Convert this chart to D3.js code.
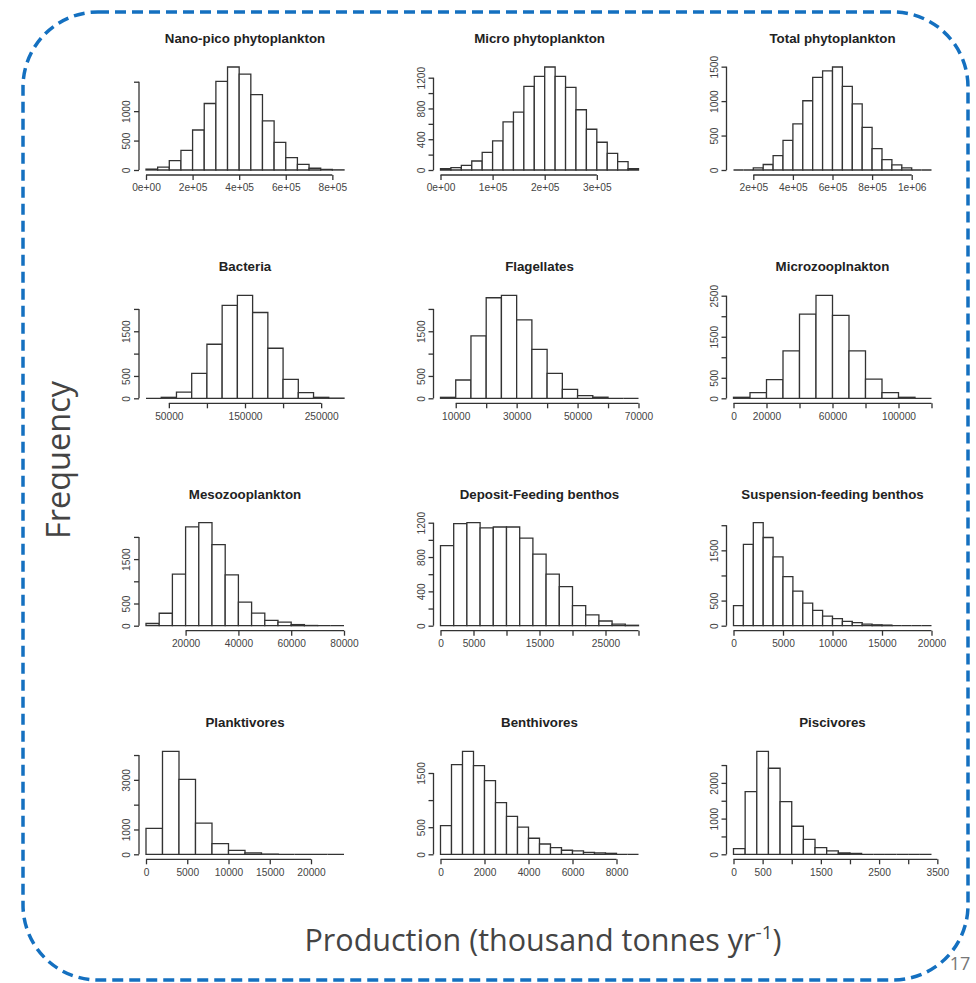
<!DOCTYPE html>
<html>
<head>
<meta charset="utf-8">
<script src="https://cdn.jsdelivr.net/npm/d3@7"></script>
<style>
  body { margin: 0; background: #fff; }
  svg { display: block; }
</style>
</head>
<body>
<svg id="chart"></svg>
<script>
// panel titles, left-to-right then top-to-bottom
const titles = [
  "Nano-pico phytoplankton", "Micro phytoplankton", "Total phytoplankton",
  "Bacteria", "Flagellates", "Microzooplnakton",
  "Mesozooplankton", "Deposit-Feeding benthos", "Suspension-feeding benthos",
  "Planktivores", "Benthivores", "Piscivores"
];

// histogram bins: first break and bin width
const binStart = [0, 0, 100000, 20000, 5000, 0, 5000, 0, 0, 0, 0, 0];
const binWidth = [50000, 20000, 50000, 20000, 5000, 10000, 5000, 2000, 1000, 2000, 500, 200];

// counts per bin
const nanoPico = [15, 50, 160, 335, 680, 1130, 1505, 1750, 1630, 1280, 835, 470, 210, 95, 30, 10, 3];
const microPhyto = [17, 30, 60, 117, 230, 378, 626, 752, 1087, 1217, 1339, 1217, 1074, 783, 530, 361, 217, 109, 17];
const totalPhyto = [0, 0, 30, 80, 210, 430, 670, 1005, 1345, 1440, 1495, 1215, 960, 620, 310, 150, 75, 30, 0, 0];
const bacteria = [0, 22, 140, 560, 1210, 2080, 2305, 1920, 1120, 425, 127, 22, 4];
const flagellates = [22, 410, 1395, 2250, 2305, 1755, 1097, 560, 200, 60, 25, 0, 0];
const microzoo = [25, 140, 455, 1155, 2050, 2510, 2020, 1155, 465, 140, 25, 0];
const mesozoo = [50, 280, 1160, 2225, 2320, 1825, 1145, 530, 285, 120, 80, 25, 5, 0, 0];
const depositBenthos = [932, 1190, 1200, 1140, 1150, 1150, 1020, 835, 600, 456, 234, 125, 55, 18, 5];
const suspensionBenthos = [400, 1620, 2050, 1755, 1370, 975, 690, 450, 305, 190, 140, 85, 60, 33, 18, 12, 0, 0, 0, 0];
const planktivores = [1045, 4150, 3020, 1260, 430, 160, 55, 10, 0, 0, 0, 0];
const benthivores = [530, 1655, 1900, 1635, 1360, 955, 700, 500, 296, 190, 123, 75, 62, 37, 25, 18, 0, 0];
const piscivores = [160, 1755, 2885, 2410, 1475, 785, 420, 187, 94, 37, 25, 0, 0, 0, 0, 0, 0];

const counts = [nanoPico, microPhyto, totalPhyto, bacteria, flagellates, microzoo,
  mesozoo, depositBenthos, suspensionBenthos, planktivores, benthivores, piscivores];

// x axis ticks and the labels R actually printed ("" = tick without label)
const xTicks = [
  [0, 2e5, 4e5, 6e5, 8e5], [0, 1e5, 2e5, 3e5], [2e5, 4e5, 6e5, 8e5, 1e6],
  [50000, 100000, 150000, 200000, 250000], [10000, 20000, 30000, 40000, 50000, 60000, 70000],
  [0, 20000, 40000, 60000, 80000, 100000, 120000],
  [20000, 40000, 60000, 80000], [0, 5000, 10000, 15000, 20000, 25000, 30000], [0, 5000, 10000, 15000, 20000],
  [0, 5000, 10000, 15000, 20000], [0, 2000, 4000, 6000, 8000], [0, 500, 1000, 1500, 2000, 2500, 3000, 3500]
];
const xLabels = [
  ["0e+00", "2e+05", "4e+05", "6e+05", "8e+05"], ["0e+00", "1e+05", "2e+05", "3e+05"],
  ["2e+05", "4e+05", "6e+05", "8e+05", "1e+06"],
  ["50000", "", "150000", "", "250000"], ["10000", "", "30000", "", "50000", "", "70000"],
  ["0", "20000", "", "60000", "", "100000", ""],
  ["20000", "40000", "60000", "80000"], ["0", "5000", "", "15000", "", "25000", ""],
  ["0", "5000", "10000", "15000", "20000"],
  ["0", "5000", "10000", "15000", "20000"], ["0", "2000", "4000", "6000", "8000"],
  ["0", "500", "", "1500", "", "2500", "", "3500"]
];

// y axis ticks and printed labels
const yTicks = [
  [0, 500, 1000, 1500], [0, 200, 400, 600, 800, 1000, 1200], [0, 500, 1000, 1500],
  [0, 500, 1000, 1500, 2000], [0, 500, 1000, 1500, 2000], [0, 500, 1000, 1500, 2000, 2500],
  [0, 500, 1000, 1500, 2000], [0, 200, 400, 600, 800, 1000, 1200], [0, 500, 1000, 1500, 2000],
  [0, 1000, 2000, 3000, 4000], [0, 500, 1000, 1500], [0, 500, 1000, 1500, 2000, 2500]
];
const yLabels = [
  ["0", "500", "1000", ""], ["0", "", "400", "", "800", "", "1200"], ["0", "500", "1000", "1500"],
  ["0", "500", "", "1500", ""], ["0", "500", "", "1500", ""], ["0", "500", "", "1500", "", "2500"],
  ["0", "500", "", "1500", ""], ["0", "", "400", "", "800", "", "1200"], ["0", "500", "", "1500", ""],
  ["0", "1000", "", "3000", ""], ["0", "500", "", "1500"], ["0", "", "1000", "", "2000", ""]
];

const W = 976, H = 983;
const colLeft = [146, 440.5, 733.5];    // where the first break sits
const rowZero = [170, 398.3, 625.7, 854.3]; // y of count 0
const plotW = 198, plotH = 103;
const lineCol = "#333";
const labelFont = "Liberation Sans, Arial, sans-serif";
const slideFont = "Open Sans, Noto Sans, sans-serif";

const svg = d3.select("#chart").attr("width", W).attr("height", H);

// dashed rounded frame
svg.append("rect")
  .attr("x", 23).attr("y", 12)
  .attr("width", 945).attr("height", 968)
  .attr("rx", 75).attr("ry", 75)
  .attr("fill", "none")
  .attr("stroke", "#1470c0")
  .attr("stroke-width", 3.5)
  .attr("stroke-dasharray", "11 6");

titles.forEach((title, i) => {
  const col = i % 3, row = Math.floor(i / 3);
  const data = counts[i];
  const x0 = colLeft[col], zero = rowZero[row];

  const x = d3.scaleLinear()
    .domain([binStart[i], binStart[i] + data.length * binWidth[i]])
    .range([x0, x0 + plotW]);
  const y = d3.scaleLinear()
    .domain([0, d3.max(data)])
    .range([zero, zero - plotH]);

  const g = svg.append("g");

  g.append("text")
    .attr("x", x0 + plotW / 2)
    .attr("y", zero - 127)
    .attr("text-anchor", "middle")
    .attr("font-family", labelFont)
    .attr("font-weight", "bold")
    .attr("font-size", 13.3)
    .attr("fill", "#222")
    .text(title);

  // bars as closed paths so empty bins still leave a line, like R does
  g.selectAll("path.bar")
    .data(data)
    .join("path")
    .attr("class", "bar")
    .attr("d", (d, j) => {
      const a = x(binStart[i] + j * binWidth[i]);
      const b = x(binStart[i] + (j + 1) * binWidth[i]);
      return `M${a},${y(0)}V${y(d)}H${b}V${y(0)}Z`;
    })
    .attr("fill", "#fff")
    .attr("stroke", lineCol)
    .attr("stroke-width", 1.3);

  // x axis, line only between first and last tick
  const xt = xTicks[i];
  const xAxis = g.append("g")
    .attr("transform", `translate(0,${zero + 5})`)
    .call(d3.axisBottom(x).tickValues(xt).tickSize(5).tickPadding(4)
      .tickFormat((d, k) => xLabels[i][k]));
  xAxis.select(".domain").attr("d", `M${x(xt[0])},0H${x(xt[xt.length - 1])}`);

  const axisX = x0 - 7;
  const yt = yTicks[i];
  const yAxis = g.append("g")
    .attr("transform", `translate(${axisX},0)`)
    .call(d3.axisLeft(y).tickValues(yt).tickSize(5)
      .tickFormat((d, k) => yLabels[i][k]));
  yAxis.select(".domain").attr("d", `M0,${y(yt[0])}V${y(yt[yt.length - 1])}`);
  yAxis.selectAll(".tick text")
    .attr("transform", "rotate(-90)")
    .attr("x", 0).attr("y", -9).attr("dy", 0)
    .attr("text-anchor", "middle");

  [xAxis, yAxis].forEach(a => {
    a.selectAll(".domain, .tick line").attr("stroke", lineCol).attr("stroke-width", 1.3);
    a.selectAll(".tick text")
      .attr("font-family", labelFont)
      .attr("font-size", 10.2)
      .attr("fill", "#444");
  });
});

// slide labels
svg.append("text")
  .attr("transform", "translate(70,460) rotate(-90)")
  .attr("text-anchor", "middle")
  .attr("font-family", slideFont)
  .attr("font-size", 32.5)
  .attr("fill", "#444")
  .text("Frequency");

const xlab = svg.append("text")
  .attr("x", 543).attr("y", 951)
  .attr("text-anchor", "middle")
  .attr("font-family", slideFont)
  .attr("font-size", 30.5)
  .attr("fill", "#444");
xlab.append("tspan").text("Production (thousand tonnes yr");
xlab.append("tspan").attr("font-size", 19).attr("dy", -12).text("-1");
xlab.append("tspan").attr("dy", 12).text(")");

svg.append("text")
  .attr("x", 960).attr("y", 970)
  .attr("text-anchor", "middle")
  .attr("font-family", slideFont)
  .attr("font-size", 18)
  .attr("fill", "#777")
  .text("17");
</script>
</body>
</html>
